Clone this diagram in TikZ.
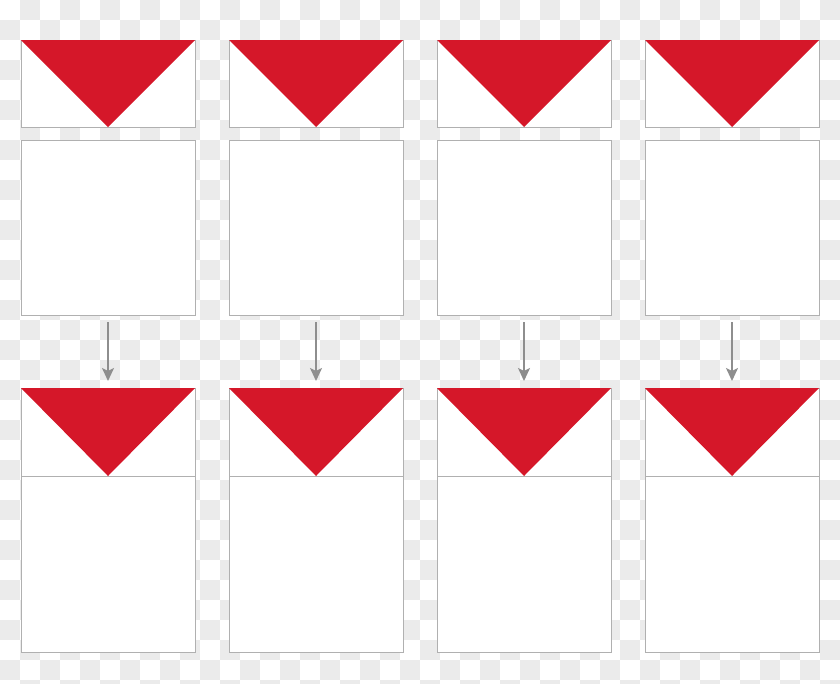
\documentclass[tikz,border=0pt]{standalone}
\usetikzlibrary{positioning,arrows.meta}
\definecolor{flapred}{HTML}{D51729}
\definecolor{panelgray}{HTML}{B0B0B0}
\definecolor{arrowgray}{HTML}{8E8E8E}
\definecolor{checkgray}{HTML}{EBEBEB}

\begin{document}
\begin{tikzpicture}[x=1pt, y=-1pt, node distance=13pt and 34pt,
                    panel/.style={draw=panelgray, fill=white, line width=0.8pt, minimum width=174pt, inner sep=0pt, outer sep=0pt},
                    flap/.style={panel, minimum height=87pt},
                    sheet/.style={panel, minimum height=175pt},
                    pocket/.style={panel, minimum height=176pt},
                    fold/.style={-{Stealth[length=13pt,width=12pt,inset=3pt]}, draw=arrowgray, line width=1.8pt, shorten <=7pt, shorten >=7pt}]

\useasboundingbox (0,0) rectangle (840,683);
\clip (0,0) rectangle (840,683);

% checkerboard background
\foreach \x in {20,60,...,820} \foreach \y in {0,40,...,680} \fill[checkgray] (\x,\y) rectangle ++(20,20);
\foreach \x in {0,40,...,840} \foreach \y in {20,60,...,680} \fill[checkgray] (\x,\y) rectangle ++(20,20);

% top row: flap and sheet
\node[flap] (flapA) at (108,83.5) {};
\node[flap] (flapB) [right=of flapA] {};
\node[flap] (flapC) [right=of flapB] {};
\node[flap] (flapD) [right=of flapC] {};
\node[sheet] (sheetA) [below=of flapA] {};
\node[sheet] (sheetB) [below=of flapB] {};
\node[sheet] (sheetC) [below=of flapC] {};
\node[sheet] (sheetD) [below=of flapD] {};

% bottom row: flap joined to pocket
\node[flap, minimum height=88pt] (joinA) [below=73pt of sheetA] {};
\node[flap, minimum height=88pt] (joinB) [below=73pt of sheetB] {};
\node[flap, minimum height=88pt] (joinC) [below=73pt of sheetC] {};
\node[flap, minimum height=88pt] (joinD) [below=73pt of sheetD] {};
\node[pocket] (pocketA) [below=0pt of joinA] {};
\node[pocket] (pocketB) [below=0pt of joinB] {};
\node[pocket] (pocketC) [below=0pt of joinC] {};
\node[pocket] (pocketD) [below=0pt of joinD] {};

% red triangles
\fill[flapred] (flapA.north west) -- (flapA.north east) -- (flapA.south) -- cycle;
\fill[flapred] (flapB.north west) -- (flapB.north east) -- (flapB.south) -- cycle;
\fill[flapred] (flapC.north west) -- (flapC.north east) -- (flapC.south) -- cycle;
\fill[flapred] (flapD.north west) -- (flapD.north east) -- (flapD.south) -- cycle;
\fill[flapred] (joinA.north west) -- (joinA.north east) -- (joinA.south) -- cycle;
\fill[flapred] (joinB.north west) -- (joinB.north east) -- (joinB.south) -- cycle;
\fill[flapred] (joinC.north west) -- (joinC.north east) -- (joinC.south) -- cycle;
\fill[flapred] (joinD.north west) -- (joinD.north east) -- (joinD.south) -- cycle;

% arrows
\path (sheetA) edge [fold] (joinA);
\path (sheetB) edge [fold] (joinB);
\path (sheetC) edge [fold] (joinC);
\path (sheetD) edge [fold] (joinD);

\end{tikzpicture}
\end{document}
